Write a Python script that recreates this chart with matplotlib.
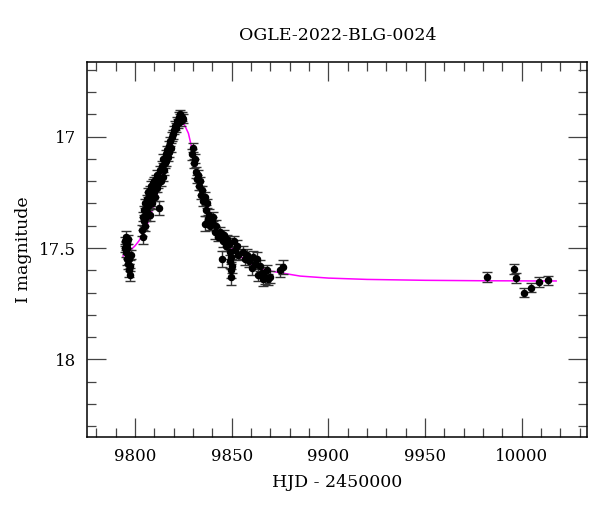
import matplotlib
matplotlib.use("Agg")
import matplotlib.pyplot as plt
from matplotlib.ticker import MultipleLocator

title = "OGLE-2022-BLG-0024"
xlabel = "HJD - 2450000"
ylabel = "I magnitude"

# observed photometry (HJD-2450000, I mag, error)
hjd = [9794.6, 9794.9, 9795.1, 9795.3, 9795.6, 9795.8, 9796.0, 9796.2, 9796.5, 9796.7,
       9797.0, 9797.3, 9797.6, 9798.0, 9796.3, 9795.4,
       9803.6, 9803.9, 9804.2, 9804.5, 9804.8, 9805.1, 9805.4, 9805.7, 9806.0, 9806.3,
       9806.6, 9806.9, 9807.2, 9807.5, 9807.8, 9808.1, 9808.4, 9808.7, 9809.0, 9809.3,
       9809.6, 9810.0, 9810.4, 9810.8, 9811.2, 9811.6, 9812.0, 9812.5, 9813.0, 9813.4,
       9813.8, 9814.2, 9814.6, 9815.0, 9815.4, 9815.8, 9816.2, 9816.6, 9817.0, 9817.4,
       9817.8, 9818.2, 9818.6, 9819.0, 9819.5, 9820.0, 9820.5, 9821.0, 9821.5, 9822.0,
       9822.5, 9823.0, 9823.5, 9824.0, 9824.5, 9825.0,
       9829.3, 9829.8, 9830.3, 9830.8, 9831.3, 9831.9, 9832.5, 9833.0, 9833.6, 9834.2,
       9834.8, 9835.4, 9836.0, 9836.0, 9836.6, 9837.2, 9837.8, 9838.4, 9839.0, 9839.6,
       9840.4, 9841.4, 9842.0, 9843.0, 9844.0, 9844.8, 9845.3, 9846.0, 9846.8, 9847.6,
       9848.4, 9849.0, 9849.2, 9849.4, 9849.6, 9849.8, 9850.2, 9851.0, 9851.7, 9852.5,
       9853.2, 9856.0, 9857.0, 9858.0, 9859.0, 9860.4, 9861.0, 9862.0, 9863.0, 9863.7,
       9864.5, 9865.5, 9866.3, 9867.2, 9868.0, 9869.0, 9870.0, 9875.0, 9876.6,
       9981.9, 9996.1, 9997.1, 10001.2, 10004.9, 10009.0, 10013.8]
imag = [17.47, 17.50, 17.45, 17.52, 17.48, 17.55, 17.50, 17.53, 17.57, 17.60,
        17.55, 17.62, 17.58, 17.53, 17.46, 17.49,
        17.42, 17.36, 17.45, 17.38, 17.33, 17.40, 17.30, 17.36, 17.28, 17.34,
        17.25, 17.31, 17.27, 17.35, 17.24, 17.29, 17.22, 17.26, 17.30, 17.21,
        17.25, 17.20, 17.27, 17.19, 17.23, 17.17, 17.21, 17.32, 17.15, 17.20,
        17.13, 17.18, 17.10, 17.15, 17.12, 17.08, 17.11, 17.06, 17.09, 17.04,
        17.07, 17.02, 17.05, 17.00, 16.99, 16.97, 16.95, 16.96, 16.93, 16.94,
        16.91, 16.92, 16.90, 16.93, 16.91, 16.92,
        17.08, 17.05, 17.12, 17.10, 17.16, 17.19, 17.17, 17.22, 17.20, 17.26,
        17.24, 17.29, 17.27, 17.39, 17.33, 17.30, 17.37, 17.35, 17.40, 17.38,
        17.36, 17.43, 17.40, 17.45, 17.43, 17.55, 17.47, 17.44, 17.49, 17.46,
        17.48, 17.52, 17.56, 17.60, 17.63, 17.54, 17.58, 17.47, 17.51, 17.49,
        17.53, 17.52, 17.55, 17.53, 17.56, 17.59, 17.54, 17.57, 17.55, 17.62,
        17.58, 17.61, 17.64, 17.63, 17.60, 17.64, 17.63, 17.60, 17.585,
        17.629, 17.594, 17.636, 17.700, 17.678, 17.651, 17.644]
ierr = [0.02, 0.02, 0.025, 0.02, 0.02, 0.025, 0.02, 0.02, 0.025, 0.03,
        0.02, 0.03, 0.025, 0.02, 0.02, 0.02,
        0.025, 0.02, 0.03, 0.02, 0.02, 0.025, 0.02, 0.02, 0.02, 0.025,
        0.02, 0.02, 0.02, 0.03, 0.02, 0.02, 0.02, 0.02, 0.025, 0.02,
        0.02, 0.02, 0.02, 0.02, 0.02, 0.02, 0.02, 0.03, 0.02, 0.02,
        0.02, 0.02, 0.02, 0.02, 0.02, 0.02, 0.02, 0.02, 0.02, 0.02,
        0.02, 0.02, 0.02, 0.02, 0.02, 0.02, 0.02, 0.02, 0.02, 0.02,
        0.02, 0.02, 0.02, 0.02, 0.02, 0.02,
        0.025, 0.02, 0.02, 0.02, 0.025, 0.02, 0.02, 0.02, 0.02, 0.02,
        0.02, 0.02, 0.02, 0.035, 0.025, 0.02, 0.02, 0.025, 0.02, 0.02,
        0.02, 0.03, 0.025, 0.02, 0.025, 0.035, 0.025, 0.02, 0.025, 0.02,
        0.025, 0.03, 0.03, 0.035, 0.035, 0.03, 0.03, 0.025, 0.03, 0.025,
        0.025, 0.03, 0.025, 0.025, 0.025, 0.03, 0.025, 0.025, 0.03, 0.03,
        0.025, 0.025, 0.03, 0.03, 0.025, 0.025, 0.025, 0.03, 0.03,
        0.022, 0.022, 0.022, 0.02, 0.02, 0.022, 0.02]

# microlensing model curve
model_t = [9793.8, 9797.0, 9800.0, 9802.0, 9804.3, 9806.5, 9809.5, 9811.5, 9813.8, 9816.0,
           9818.1, 9819.5, 9820.7, 9821.8, 9822.8, 9823.8, 9824.8, 9825.8, 9826.7, 9827.6,
           9828.8, 9830.2, 9831.5, 9832.7, 9834.4, 9836.2, 9838.8, 9840.5, 9843.0, 9845.7,
           9849.0, 9852.6, 9857.0, 9862.9, 9868.0, 9875.0, 9885.4, 9900.0, 9920.0, 9950.0,
           9980.0, 10017.8]
model_m = [17.536, 17.515, 17.490, 17.468, 17.434, 17.390, 17.314, 17.255, 17.180, 17.115,
           17.060, 17.020, 16.985, 16.958, 16.942, 16.934, 16.938, 16.952, 16.968, 16.985,
           17.030, 17.090, 17.140, 17.180, 17.235, 17.284, 17.344, 17.390, 17.425, 17.449,
           17.490, 17.524, 17.555, 17.584, 17.600, 17.611, 17.626, 17.635, 17.641, 17.645,
           17.647, 17.648]

plt.rcParams['font.family'] = ['DejaVu Serif']
fig = plt.figure(figsize=(6.0, 5.12), dpi=100)
ax = fig.add_axes([0.1455, 0.1459, 0.8333, 0.7324])

ax.plot(model_t, model_m, color='#ff00ff', lw=1.1, zorder=2)
ax.errorbar(hjd, imag, yerr=ierr, fmt='o', color='black', ms=4.4, mec='black',
            ecolor='#333333', elinewidth=1.0, capsize=3.3, capthick=1.0, zorder=3)

ax.set_xlim(9775.3, 10033.9)
ax.set_ylim(18.35, 16.666)
ax.xaxis.set_major_locator(MultipleLocator(50))
ax.xaxis.set_minor_locator(MultipleLocator(10))
ax.yaxis.set_major_locator(MultipleLocator(0.5))
ax.yaxis.set_minor_locator(MultipleLocator(0.1))
ax.tick_params(which='both', direction='in', top=True, right=True, color='#444444',
               width=0.9, labelsize=12)
ax.tick_params(which='major', length=13.5, pad=8)
ax.tick_params(which='minor', length=6.8)
ax.set_yticks([17, 17.5, 18])
ax.set_yticklabels(['17', '17.5', '18'])
for s in ax.spines.values():
    s.set_linewidth(1.1)

ax.set_title(title, fontsize=12.5, pad=16)
ax.set_xlabel(xlabel, fontsize=12.5, labelpad=6)
ax.set_ylabel(ylabel, fontsize=12.5, labelpad=5)

fig.savefig('out.png', dpi=100)
